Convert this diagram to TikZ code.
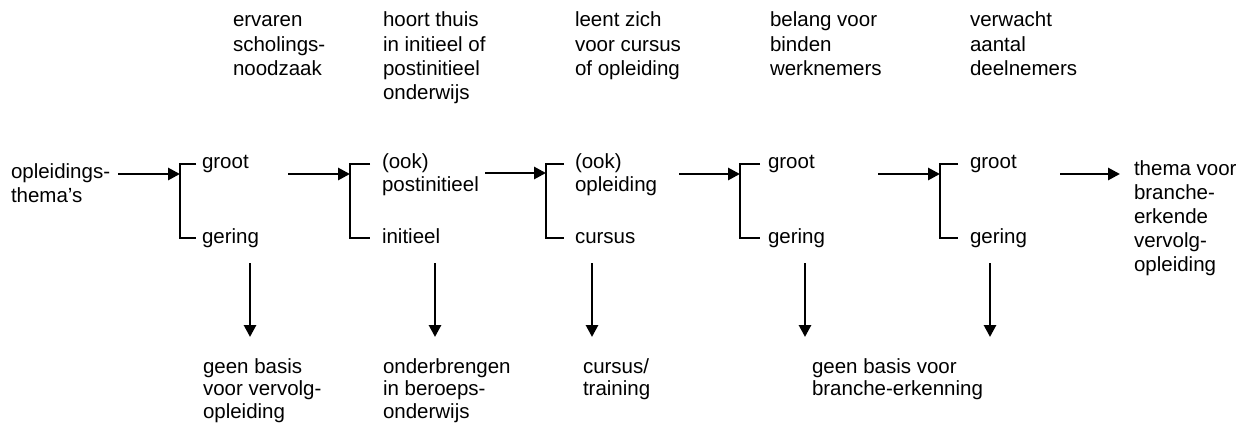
\documentclass[tikz,border=0pt]{standalone}
\usepackage{fontspec}
\setmainfont{Liberation Sans}
\usetikzlibrary{arrows.meta}
\tikzset{
  lbl/.style={anchor=base west, inner sep=0pt, outer sep=0pt, align=left},
  hdr/.style={lbl, font=\fontsize{20.5}{24.2}\selectfont},
  mid/.style={lbl, font=\fontsize{20.5}{24}\selectfont},
  bot/.style={lbl, font=\fontsize{20.5}{22.5}\selectfont},
  flow/.style={line width=2.8pt, -{Triangle[length=12pt,width=12pt]}},
  brk/.style={line width=1.3pt},
}
\begin{document}
\begin{tikzpicture}[x=1pt,y=-1pt]
\useasboundingbox (0,0) rectangle (1248,425);
% headers (anchor = baseline of last line)
\node[hdr] (h1) at (233,75.4) {ervaren\\scholings-\\noodzaak};
\node[hdr] (h2) at (383,99.6) {hoort thuis\\in initieel of\\postinitieel\\onderwijs};
\node[hdr] (h3) at (575,75.4) {leent zich\\voor cursus\\of opleiding};
\node[hdr] (h4) at (770,75.4) {belang voor\\binden\\werknemers};
\node[hdr] (h5) at (970,75.4) {verwacht\\aantal\\deelnemers};
% start
\node[mid] (start) at (11,202.5) {opleidings-\\thema’s};
% bracket texts
\node[mid] (g1) at (202,168) {groot};
\node[mid] (l1) at (202,243) {gering};
\node[mid] (g2) at (382,192) {(ook)\\postinitieel};
\node[mid] (l2) at (382,243) {initieel};
\node[mid] (g3) at (575,192) {(ook)\\opleiding};
\node[mid] (l3) at (575,243) {cursus};
\node[mid] (g4) at (768,168) {groot};
\node[mid] (l4) at (768,243) {gering};
\node[mid] (g5) at (970,168) {groot};
\node[mid] (l5) at (970,243) {gering};
\node[mid] (end) at (1134,271) {thema voor\\branche-\\erkende\\vervolg-\\opleiding};
% bottom texts
\node[bot] (r1) at (203,418) {geen basis\\voor vervolg-\\opleiding};
\node[bot] (r2) at (383,418) {onderbrengen\\in beroeps-\\onderwijs};
\node[bot] (r3) at (583,395.5) {cursus/\\training};
\node[bot] (r4) at (812,395.5) {geen basis voor\\branche-erkenning};
% bracket coordinates
\coordinate (b1) at (180,174); \coordinate (b2) at (350,174); \coordinate (b3) at (546,173);
\coordinate (b4) at (740,174); \coordinate (b5) at (940,174);
\coordinate (a1) at (118,174); \coordinate (a2) at (288,174); \coordinate (a3) at (485,173);
\coordinate (a4) at (679,174); \coordinate (a5) at (878,174); \coordinate (a6) at (1060,174);
\coordinate (e6) at (1120,174);
% brackets
\draw[brk] (196,164) -- (180,164) -- (180,238) -- (196,238);
\draw[brk] (370,164) -- (350,164) -- (350,238) -- (370,238);
\draw[brk] (564,164) -- (546,164) -- (546,238) -- (564,238);
\draw[brk] (760,164) -- (740,164) -- (740,238) -- (760,238);
\draw[brk] (958,164) -- (940,164) -- (940,238) -- (958,238);
% horizontal arrows
\draw[flow] (a1) -- (b1);
\draw[flow] (a2) -- (b2);
\draw[flow] (a3) -- (b3);
\draw[flow] (a4) -- (b4);
\draw[flow] (a5) -- (b5);
\draw[flow] (a6) -- (e6);
% vertical arrows
\coordinate (v1s) at (250,263); \coordinate (v1e) at (250,337);
\coordinate (v2s) at (435,263); \coordinate (v2e) at (435,337);
\coordinate (v3s) at (592,263); \coordinate (v3e) at (592,337);
\coordinate (v4s) at (805,263); \coordinate (v4e) at (805,337);
\coordinate (v5s) at (990,263); \coordinate (v5e) at (990,337);
\draw[flow] (v1s) -- (v1e);
\draw[flow] (v2s) -- (v2e);
\draw[flow] (v3s) -- (v3e);
\draw[flow] (v4s) -- (v4e);
\draw[flow] (v5s) -- (v5e);
\end{tikzpicture}
\end{document}
